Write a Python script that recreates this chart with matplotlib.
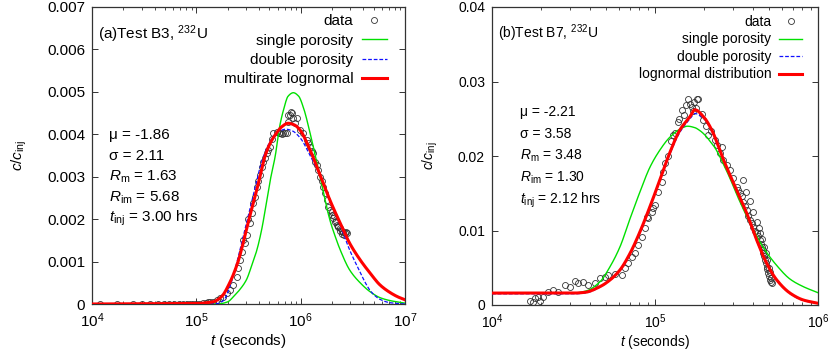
import numpy as np
import matplotlib
matplotlib.use("Agg")
import matplotlib.pyplot as plt
from matplotlib.ticker import LogLocator, LogFormatterSciNotation, FixedLocator, NullFormatter

plt.rcParams['font.family'] = ['Liberation Sans', 'DejaVu Sans']
plt.rcParams['mathtext.fontset'] = 'custom'
plt.rcParams['mathtext.rm'] = 'Liberation Sans'
plt.rcParams['mathtext.it'] = 'Liberation Sans:italic'
plt.rcParams['mathtext.bf'] = 'Liberation Sans:bold'

# ---------------- Panel (a): Test B3 ----------------
a_title = "(a)Test B3, $^{232}$U"
a_params = ["\u03bc = -1.86", "\u03c3 = 2.11", "$R_{\\rm m}$ = 1.63",
            "$R_{\\rm im}$ = 5.68", "$t_{\\rm inj}$ = 3.00 hrs"]
a_labels = ["data", "single porosity", "double porosity", "multirate lognormal"]
a_yticks = [0, 0.001, 0.002, 0.003, 0.004, 0.005, 0.006, 0.007]
a_yticklabels = ["0", "0.001", "0.002", "0.003", "0.004", "0.005", "0.006", "0.007"]

# data (log10 t, c/cinj)
a_data_logt = [4.08, 4.24, 4.39, 4.48, 4.56, 4.63, 4.69, 4.74, 4.79, 4.83, 4.87, 4.91,
               4.94, 4.97, 5.00, 5.03, 5.06, 5.09, 5.11, 5.13,
               5.163, 5.195, 5.227, 5.259, 5.291, 5.323, 5.355, 5.387, 5.403, 5.419,
               5.435, 5.467, 5.483, 5.515, 5.531, 5.547, 5.563, 5.579, 5.611, 5.627,
               5.643, 5.675, 5.707, 5.723, 5.739, 5.771, 5.79, 5.802, 5.818, 5.834,
               5.85, 5.867, 5.88, 5.898, 5.915, 5.93, 5.946, 5.963, 5.994, 6.026,
               6.058, 6.09, 6.122, 6.138, 6.154, 6.17, 6.186, 6.218, 6.25, 6.266,
               6.282, 6.298, 6.314, 6.33, 6.346, 6.362, 6.378, 6.394, 6.41, 6.426,
               6.442, 6.30, 6.32, 6.34, 6.36, 6.38, 6.40, 6.42, 6.435, 5.88, 5.905,
               5.45, 5.50, 5.59, 5.66, 5.69, 6.07, 6.105, 6.20, 6.235]
a_data_c = [0.0, 0.0, 0.0, 0.0, 0.0, 0.0, 0.0, 0.0, 0.0, 0.0, 0.0, 0.0,
            0.0, 0.0, 0.0, 0.00001, 0.00002, 0.00003, 0.00004, 0.00005,
            0.00005, 0.00009, 0.00013, 0.00017, 0.00025, 0.00033, 0.00045, 0.00064, 0.00084, 0.00104,
            0.00123, 0.00143, 0.00163, 0.0019, 0.00214, 0.00237, 0.00253, 0.00276, 0.00304, 0.00324,
            0.00335, 0.00355, 0.00371, 0.0039, 0.00402, 0.00406, 0.00404, 0.00402, 0.00401, 0.00402,
            0.00403, 0.00404, 0.00430, 0.00445, 0.00449, 0.00438, 0.00426, 0.00438, 0.0041, 0.00402,
            0.00387, 0.00371, 0.00355, 0.00335, 0.00328, 0.00316, 0.003, 0.00276, 0.00245, 0.00229,
            0.00222, 0.0021, 0.00202, 0.00194, 0.00186, 0.00183, 0.00178, 0.00173, 0.0017, 0.00168,
            0.00167, 0.00218, 0.00208, 0.00195, 0.00182, 0.00172, 0.00165, 0.00162, 0.00170, 0.00445, 0.00452,
            0.00150, 0.00200, 0.00290, 0.00345, 0.00362, 0.00380, 0.00360, 0.00290, 0.00262]

a_single_logt = [4.0, 5.0, 5.2, 5.3, 5.355, 5.42, 5.48, 5.53, 5.58, 5.63, 5.675, 5.715,
                 5.755, 5.8, 5.835, 5.88, 5.93, 5.98, 6.03, 6.09, 6.14, 6.186, 6.23, 6.28,
                 6.33, 6.38, 6.47, 6.57, 6.665, 6.76, 6.857, 6.95, 7.0]
a_single_c = [0.0, 0.0, 0.0, 0.00005, 0.00017, 0.00035, 0.00057, 0.0009, 0.00127, 0.0018, 0.00245, 0.003,
              0.00347, 0.0042, 0.00457, 0.0049, 0.00498, 0.0049, 0.0046, 0.00403, 0.0035, 0.003, 0.0025, 0.00198,
              0.0016, 0.00127, 0.0008, 0.0005, 0.00029, 0.00015, 0.00008, 0.00004, 0.00002]

a_double_logt = [4.0, 5.0, 5.2, 5.26, 5.32, 5.38, 5.44, 5.5, 5.56, 5.62, 5.68, 5.74,
                 5.8, 5.86, 5.92, 6.0, 6.09, 6.19, 6.28, 6.38, 6.47, 6.52, 6.57, 6.62,
                 6.665, 6.71, 6.76, 6.857, 6.95, 7.0]
a_double_c = [0.0, 0.0, 0.00001, 0.00008, 0.0004, 0.0009, 0.0015, 0.0021, 0.0027, 0.0033, 0.0037, 0.00396,
              0.00408, 0.00412, 0.00408, 0.0039, 0.0035, 0.003, 0.00245, 0.00185, 0.00127, 0.001, 0.00075, 0.0005,
              0.00032, 0.0002, 0.00011, 0.00003, 0.00001, 0.0]

a_lognorm_logt = [4.0, 5.0, 5.1, 5.16, 5.24, 5.32, 5.40, 5.455, 5.505, 5.56, 5.61, 5.66,
                  5.71, 5.76, 5.82, 5.88, 5.94, 5.994, 6.09, 6.186, 6.28, 6.38, 6.47, 6.57,
                  6.665, 6.76, 6.857, 6.93, 7.0]
a_lognorm_c = [0.0, 0.00001, 0.00003, 0.00005, 0.00017, 0.0005, 0.001, 0.0015, 0.002, 0.0025, 0.003, 0.0035,
               0.0038, 0.004, 0.00418, 0.00426, 0.00422, 0.0041, 0.00363, 0.00304, 0.00245, 0.0019, 0.00143, 0.00104,
               0.00073, 0.00045, 0.00027, 0.00017, 0.0001]

# ---------------- Panel (b): Test B7 ----------------
b_title = "(b)Test B7, $^{232}$U"
b_params = ["\u03bc = -2.21", "\u03c3 = 3.58", "$R_{\\rm m}$ = 3.48",
            "$R_{\\rm im}$ = 1.30", "$t_{\\rm inj}$ = 2.12 hrs"]
b_labels = ["data", "single porosity", "double porosity", "lognormal distribution"]
b_yticks = [0, 0.01, 0.02, 0.03, 0.04]
b_yticklabels = ["0", "0.01", "0.02", "0.03", "0.04"]

b_data_logt = [4.233, 4.264, 4.294, 4.315, 4.345, 4.376, 4.407, 4.448, 4.479, 4.509,
               4.53, 4.56, 4.591, 4.632, 4.663, 4.693, 4.714, 4.755, 4.796, 4.816,
               4.836, 4.857, 4.877, 4.898, 4.918, 4.939, 4.959, 4.98, 5.0, 5.02,
               5.04, 5.061, 5.08, 5.10, 5.123, 5.14, 5.164, 5.18, 5.204, 5.215,
               5.225, 5.24, 5.255, 5.266, 5.286, 5.296, 5.31, 5.327, 5.345, 5.368,
               5.378, 5.399, 5.409, 5.419, 5.44, 5.46, 5.48, 5.501, 5.511, 5.521,
               5.532, 5.542, 5.552, 5.563, 5.573, 5.583, 5.593, 5.603, 5.614, 5.624,
               5.634, 5.644, 5.65, 5.655, 5.66, 5.665, 5.67, 5.675, 5.68, 5.685,
               5.69, 5.695, 5.70, 5.706, 5.711, 5.716, 5.713, 5.705, 5.698, 5.688,
               5.678, 5.668, 5.657, 5.646, 5.636, 5.626, 5.60, 5.58, 5.56, 5.54,
               4.25, 4.28, 5.19, 5.235, 5.25, 4.95, 4.99, 5.05, 5.11, 5.15]
b_data_c = [0.00054, 0.0009, 0.00054, 0.00112, 0.00179, 0.00201, 0.00179, 0.00268, 0.00246, 0.00322,
            0.00291, 0.00313, 0.00268, 0.00291, 0.00358, 0.0038, 0.00403, 0.00412, 0.00403, 0.0050,
            0.0056, 0.00648, 0.00694, 0.00805, 0.00917, 0.0103, 0.01163, 0.01252, 0.01342, 0.0152,
            0.0165, 0.0190, 0.0200, 0.0220, 0.0231, 0.0245, 0.0262, 0.0255, 0.0277, 0.0270,
            0.0266, 0.0272, 0.0276, 0.0277, 0.0257, 0.0248, 0.0240, 0.0228, 0.0233, 0.0221,
            0.0215, 0.0204, 0.0212, 0.01946, 0.0188, 0.01812, 0.0170, 0.01588, 0.0154, 0.015,
            0.0146, 0.01387, 0.0133, 0.01275, 0.0120, 0.01141, 0.0110, 0.01051, 0.0100, 0.00962,
            0.0092, 0.00872, 0.0082, 0.00783, 0.0074, 0.00694, 0.0066, 0.00604, 0.0057, 0.00514,
            0.0048, 0.00425, 0.0039, 0.00336, 0.0031, 0.00291, 0.0036, 0.0044, 0.0050, 0.0060,
            0.0070, 0.0078, 0.0088, 0.0097, 0.0104, 0.0112, 0.0125, 0.0140, 0.0152, 0.0168,
            0.0004, 0.0011, 0.0268, 0.0260, 0.0264, 0.0118, 0.0130, 0.0178, 0.0228, 0.0250]

b_single_logt = [4.0, 4.5, 4.58, 4.663, 4.724, 4.785, 4.847, 4.908, 4.969, 5.03,
                 5.09, 5.153, 5.20, 5.245, 5.276, 5.307, 5.337, 5.368, 5.42, 5.46,
                 5.50, 5.583, 5.665, 5.747, 5.83, 5.91, 6.0]
b_single_c = [0.0016, 0.0016, 0.0019, 0.00313, 0.00514, 0.0078, 0.0116, 0.0152, 0.0185, 0.0208,
              0.0225, 0.0236, 0.0240, 0.0238, 0.0234, 0.0228, 0.0220, 0.0211, 0.0189, 0.0170,
              0.0149, 0.0110, 0.0077, 0.0053, 0.00345, 0.00246, 0.00165]

b_double_logt = [4.0, 4.5, 4.57, 4.663, 4.724, 4.785, 4.847, 4.908, 4.969, 5.03,
                 5.09, 5.153, 5.215, 5.245, 5.3, 5.348, 5.42, 5.50, 5.563, 5.624,
                 5.685, 5.747, 5.83, 5.91, 6.0]
b_double_c = [0.0015, 0.0015, 0.0016, 0.0024, 0.0033, 0.0046, 0.0068, 0.0097, 0.0131, 0.0167,
              0.0202, 0.0232, 0.0250, 0.0257, 0.0250, 0.0233, 0.0194, 0.01535, 0.0122, 0.0086,
              0.0055, 0.0033, 0.0015, 0.0006, 0.0002]

b_lognorm_logt = [4.0, 4.5, 4.57, 4.663, 4.724, 4.785, 4.847, 4.908, 4.969, 5.03,
                  5.09, 5.153, 5.215, 5.245, 5.3, 5.348, 5.42, 5.50, 5.563, 5.624,
                  5.685, 5.747, 5.83, 5.91, 6.0]
b_lognorm_c = [0.0016, 0.0016, 0.0017, 0.00247, 0.00336, 0.0047, 0.00694, 0.00984, 0.0132, 0.0168,
               0.0204, 0.0235, 0.0253, 0.0262, 0.0252, 0.0235, 0.0195, 0.01544, 0.0123, 0.00872,
               0.0056, 0.00336, 0.00157, 0.00067, 0.00023]


def smooth(logt, c, n=500):
    """Monotone piecewise cubic (PCHIP) through the read-off points."""
    x = np.asarray(logt, float)
    y = np.asarray(c, float)
    h = np.diff(x)
    d = np.diff(y) / h
    m = np.zeros_like(y)
    for i in range(1, len(x) - 1):
        if d[i - 1] * d[i] > 0:
            w1 = 2 * h[i] + h[i - 1]
            w2 = h[i] + 2 * h[i - 1]
            m[i] = (w1 + w2) / (w1 / d[i - 1] + w2 / d[i])
        else:
            m[i] = 0.0
    m[0] = d[0]
    m[-1] = d[-1]
    xf = np.linspace(x[0], x[-1], n)
    idx = np.clip(np.searchsorted(x, xf) - 1, 0, len(x) - 2)
    hh = h[idx]
    s = (xf - x[idx]) / hh
    h00 = 2 * s**3 - 3 * s**2 + 1
    h10 = s**3 - 2 * s**2 + s
    h01 = -2 * s**3 + 3 * s**2
    h11 = s**3 - s**2
    yf = h00 * y[idx] + h10 * hh * m[idx] + h01 * y[idx + 1] + h11 * hh * m[idx + 1]
    return 10 ** xf, np.clip(yf, 0, None)


fig = plt.figure(figsize=(8.3, 3.51), dpi=100)
axA = fig.add_axes([92 / 830, (351 - 304) / 351, (405 - 92) / 830, (304 - 7) / 351])
axB = fig.add_axes([492 / 830, (351 - 305) / 351, (818 - 492) / 830, (305 - 7) / 351])

GREEN = '#00e000'
BLUE = '#1010ff'
RED = '#ff0000'


def draw(ax, fs, d_logt, d_c, s_logt, s_c, dp_logt, dp_c, ln_logt, ln_c, labels,
         xlim, ylim, yticks, yticklabels, title, title_y, params, px0, py0, dy,
         legspace, leg_anchor, ylabelpad):
    ax.plot(10 ** np.asarray(d_logt), d_c, 'o', ms=4.3, mfc='none', mec='#333333', mew=0.6,
            label=labels[0], zorder=2)
    x, y = smooth(s_logt, s_c)
    ax.plot(x, y, '-', color=GREEN, lw=1.0, label=labels[1], zorder=3)
    x, y = smooth(dp_logt, dp_c)
    ax.plot(x, y, '--', color=BLUE, lw=0.9, dashes=(3, 1.5), label=labels[2], zorder=4)
    x, y = smooth(ln_logt, ln_c)
    ax.plot(x, y, '-', color=RED, lw=2.2, label=labels[3], zorder=5)
    ax.set_xscale('log')
    ax.set_xlim(*xlim)
    ax.set_ylim(*ylim)
    ax.xaxis.set_major_locator(LogLocator(base=10, numticks=10))
    ax.xaxis.set_major_formatter(LogFormatterSciNotation())
    ax.xaxis.set_minor_locator(LogLocator(base=10, subs=np.arange(2, 10), numticks=20))
    ax.xaxis.set_minor_formatter(NullFormatter())
    ax.yaxis.set_major_locator(FixedLocator(yticks))
    ax.set_yticklabels(yticklabels)
    ax.tick_params(which='both', direction='in', top=True, right=True, labelsize=fs,
                   color='#333333', pad=5)
    ax.tick_params(which='major', length=4.5, width=0.7)
    ax.tick_params(which='minor', length=2.5, width=0.6)
    for sp in ax.spines.values():
        sp.set_color('#333333')
        sp.set_linewidth(0.9)
    ax.set_xlabel("$t$ (seconds)", fontsize=fs, labelpad=2)
    ax.set_ylabel("$c/c_{\\rm inj}$", fontsize=fs, labelpad=ylabelpad)
    ax.text(0.018, title_y, title, transform=ax.transAxes, fontsize=fs, ha='left', va='top')
    for k, p in enumerate(params):
        ax.text(px0, py0 - k * dy, p, transform=ax.transAxes, fontsize=fs, ha='left', va='center')
    leg = ax.legend(loc='upper right', bbox_to_anchor=leg_anchor, markerfirst=False,
                    frameon=False, fontsize=fs, handlelength=1.65, handletextpad=0.55,
                    labelspacing=legspace, borderaxespad=0.0, borderpad=0.0)
    return leg


draw(axA, 11, a_data_logt, a_data_c, a_single_logt, a_single_c, a_double_logt, a_double_c,
     a_lognorm_logt, a_lognorm_c, a_labels, (1e4, 1e7), (0, 0.007), a_yticks, a_yticklabels,
     a_title, 0.945, a_params, 0.055, 0.57, 0.0707, 0.36,
     (1 - 18 / 313, 1 - 7 / 297), 13)
draw(axB, 10, b_data_logt, b_data_c, b_single_logt, b_single_c, b_double_logt, b_double_c,
     b_lognorm_logt, b_lognorm_c, b_labels, (1e4, 1e6), (0, 0.04), b_yticks, b_yticklabels,
     b_title, 0.948, b_params, 0.085, 0.648, 0.0738, 0.25,
     (1 - 16 / 326, 1 - 8 / 298), 13)

fig.savefig('out.png', dpi=100)
